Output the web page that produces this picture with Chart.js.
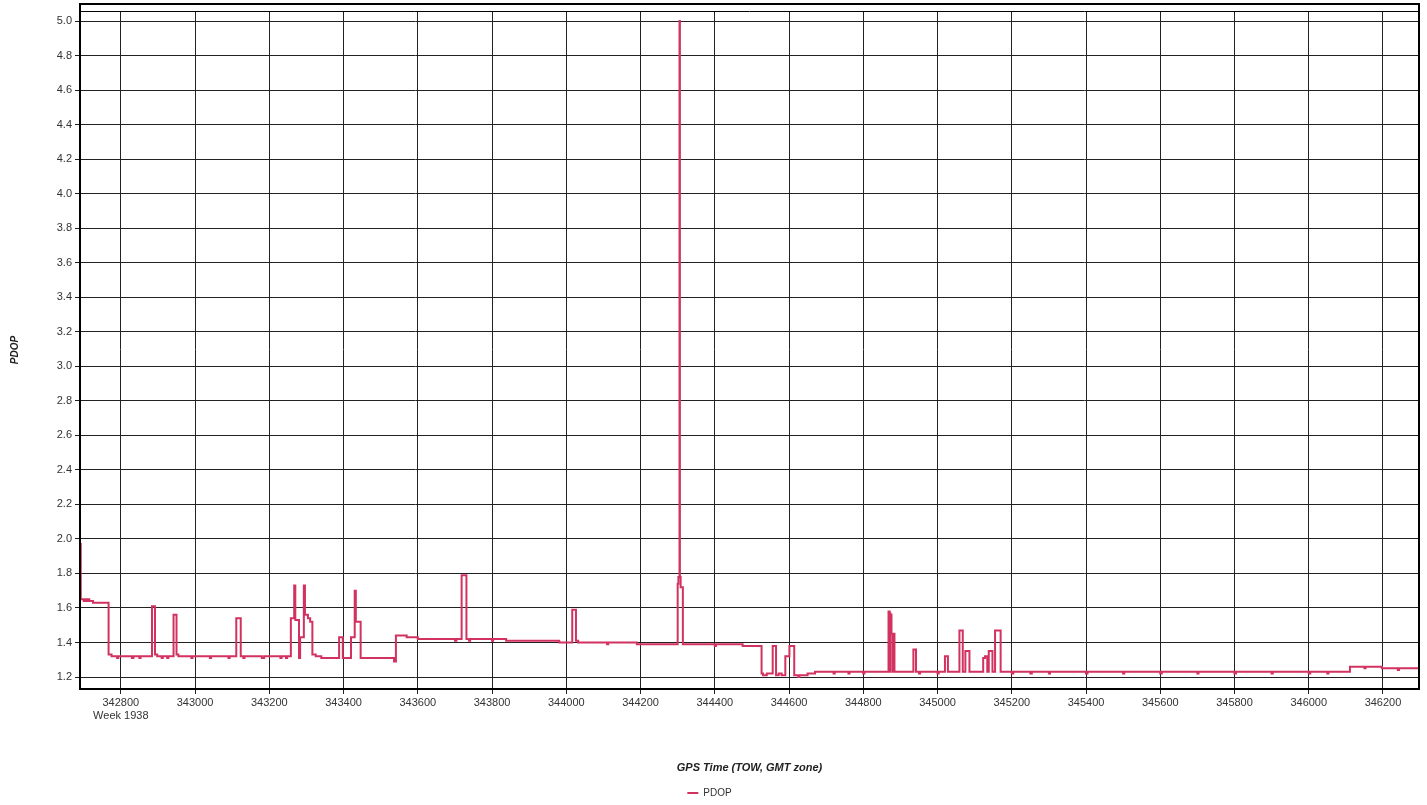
<!DOCTYPE html>
<html>
<head>
<meta charset="utf-8">
<script src="https://cdn.jsdelivr.net/npm/chart.js@4/dist/chart.umd.min.js"></script>
<style>
html,body{margin:0;padding:0;background:#fff;}
#wrap{width:1427px;height:805px;}
</style>
</head>
<body>
<div id="wrap"><canvas id="c" width="1427" height="805"></canvas></div>
<script>
// ---- data (GPS time of week, PDOP) ----
const tow = [
342690,342692,342700,342705,342708,342712,342715,342725,342767,342775,
342790,342793,342830,342834,342850,342853,342884,342892,342898,342910,
342913,342925,342928,342942,342950,342955,342990,342993,343040,343043,
343090,343093,343111,343123,343130,343133,343180,343186,343230,343233,
343245,343248,343258,343267,343270,343280,343283,343293,343296,343304,
343310,343316,343325,343340,343388,343398,343420,343430,343433,343446,
343470,343536,343541,343570,343600,343700,343704,343718,343731,343738,
343741,343800,343803,343838,343981,344016,344026,344032,344110,344113,
344190,344300,344302,344305,344306,344308,344314,344400,344403,344475,
344526,344530,344540,344556,344565,344572,344580,344590,344601,344614,
344625,344628,344650,344670,344720,344723,344760,344763,344800,344803,
344868,344871,344873,344874,344876,344880,344881,344884,344935,344942,
344950,344953,345000,345003,345020,345028,345059,345068,345075,345086,
345123,345128,345134,345138,345148,345155,345170,345200,345204,345250,
345254,345300,345303,345400,345404,345500,345503,345600,345604,345700,
345703,345800,345804,345900,345903,346000,346004,346050,346053,346111,
346150,346153,346197,346240,346243,346300
];
const pdop = [
1.97,1.65,1.64,1.65,1.64,1.65,1.64,1.63,1.33,1.32,
1.31,1.32,1.31,1.32,1.31,1.32,1.61,1.33,1.32,1.31,
1.32,1.31,1.32,1.56,1.33,1.32,1.31,1.32,1.31,1.32,
1.31,1.32,1.54,1.32,1.31,1.32,1.31,1.32,1.31,1.32,
1.31,1.32,1.54,1.73,1.53,1.31,1.43,1.73,1.56,1.54,
1.52,1.33,1.32,1.31,1.43,1.31,1.43,1.70,1.52,1.31,
1.31,1.29,1.44,1.43,1.42,1.41,1.42,1.79,1.42,1.41,
1.42,1.41,1.42,1.41,1.40,1.59,1.41,1.40,1.39,1.40,
1.39,1.74,1.78,5.00,1.78,1.72,1.39,1.38,1.39,1.38,
1.22,1.21,1.22,1.38,1.21,1.22,1.21,1.32,1.38,1.21,
1.20,1.21,1.22,1.23,1.22,1.23,1.22,1.23,1.22,1.23,
1.58,1.57,1.23,1.56,1.45,1.23,1.45,1.23,1.36,1.23,
1.22,1.23,1.22,1.23,1.32,1.23,1.47,1.23,1.35,1.23,
1.31,1.32,1.23,1.35,1.23,1.47,1.23,1.22,1.23,1.22,
1.23,1.22,1.23,1.22,1.23,1.22,1.23,1.22,1.23,1.22,
1.23,1.22,1.23,1.22,1.23,1.22,1.23,1.22,1.23,1.26,
1.25,1.26,1.25,1.24,1.25,1.25
];
const xTicks = [342800,343000,343200,343400,343600,343800,344000,344200,344400,344600,344800,345000,345200,345400,345600,345800,346000,346200];
const yTicks = [1.2,1.4,1.6,1.8,2.0,2.2,2.4,2.6,2.8,3.0,3.2,3.4,3.6,3.8,4.0,4.2,4.4,4.6,4.8,5.0];
const weekLabel = 'Week 1938';
const seriesName = 'PDOP';
const xTitle = 'GPS Time (TOW, GMT zone)';
const yTitle = 'PDOP';

const FONT = "'Liberation Sans', Arial, sans-serif";

const framePlugin = {
  id: 'frame',
  afterDraw(chart) {
    const {ctx, chartArea: a} = chart;
    ctx.save();
    ctx.strokeStyle = '#000';
    ctx.lineWidth = 2;
    ctx.strokeRect(a.left, a.top - 7, a.right - a.left, a.bottom - a.top + 7);
    ctx.lineWidth = 1;
    ctx.beginPath();
    ctx.moveTo(a.left, a.top + 0.5);
    ctx.lineTo(a.right, a.top + 0.5);
    ctx.stroke();
    ctx.restore();
  }
};

new Chart(document.getElementById('c'), {
  type: 'line',
  data: {
    datasets: [{
      label: seriesName,
      data: tow.map((t, i) => ({x: t, y: pdop[i]})),
      borderColor: '#d2325f',
      backgroundColor: '#d2325f',
      borderWidth: 2,
      stepped: true,
      fill: false,
      pointRadius: 0
    }]
  },
  options: {
    responsive: false,
    animation: false,
    layout: {padding: {top: 11, right: 8, left: 0, bottom: 0}},
    plugins: {
      legend: {
        position: 'bottom',
        maxHeight: 17,
        labels: {
          usePointStyle: true,
          pointStyle: 'line',
          pointStyleWidth: 11,
          padding: 0,
          color: '#333',
          font: {family: FONT, size: 10}
        }
      },
      tooltip: {enabled: false}
    },
    scales: {
      x: {
        type: 'linear',
        min: 342690,
        max: 346297,
        afterBuildTicks: s => { s.ticks = xTicks.map(v => ({value: v})); },
        afterFit: s => { s.height = 99; },
        ticks: {
          autoSkip: false,
          maxRotation: 0,
          padding: 2,
          color: '#333',
          font: {family: FONT, size: 11},
          callback: (v, i) => i === 0 ? [String(v), weekLabel] : String(v)
        },
        grid: {color: '#222', lineWidth: 1, tickLength: 5},
        border: {color: '#000', width: 2},
        title: {
          display: true,
          text: xTitle,
          color: '#222',
          font: {family: FONT, size: 11, weight: 'bold', style: 'italic'},
          padding: {top: 0, bottom: 13}
        }
      },
      y: {
        type: 'linear',
        min: 1.1305,
        max: 5.058,
        afterBuildTicks: s => { s.ticks = yTicks.map(v => ({value: v})); },
        afterFit: s => { s.width = 80; },
        ticks: {
          padding: 3,
          color: '#333',
          font: {family: FONT, size: 11},
          callback: v => Number(v).toFixed(1)
        },
        grid: {color: '#222', lineWidth: 1, tickLength: 5},
        border: {color: '#000', width: 2},
        title: {
          display: true,
          text: yTitle,
          color: '#222',
          font: {family: FONT, size: 10, weight: 'bold', style: 'italic'},
          padding: {top: 9, bottom: 0}
        }
      }
    }
  },
  plugins: [framePlugin]
});
</script>
</body>
</html>
